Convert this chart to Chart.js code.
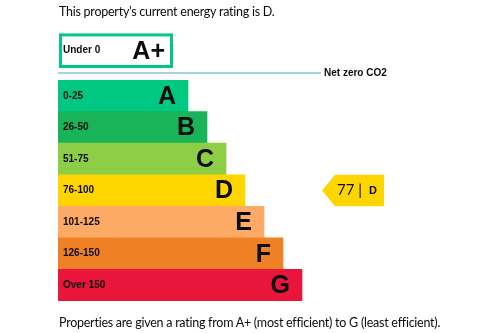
<!DOCTYPE html>
<html lang="en">
<head>
<meta charset="UTF-8">
<meta name="viewport" content="width=device-width, initial-scale=1.0">
<title>Energy rating</title>

<!-- chart.js -->
<script src="https://cdn.jsdelivr.net/npm/chart.js"></script>

<style>
    body { margin: 0; background: #fff; }
    #wrap { position: relative; width: 500px; height: 333px; overflow: hidden; }
    #chartBox { position: absolute; left: 0; top: 0; width: 500px; height: 333px; }
    .txt {
        position: absolute; left: 59px; margin: 0;
        font-family: Lato, sans-serif; font-size: 12.5px; line-height: 16px;
        letter-spacing: -0.25px; color: #0b0c0c; white-space: nowrap;
    }
</style>
</head>
<body>
<div id="wrap">
    <div id="chartBox"><canvas id="epcChart"></canvas></div>
    <p class="txt" style="top:4px">This property’s current energy rating is D.</p>
    <p class="txt" style="top:315px">Properties are given a rating from A+ (most efficient) to G (least efficient).</p>
</div>

<script>
    // rating bands, score ranges and bar lengths
    const bands = ['A', 'B', 'C', 'D', 'E', 'F', 'G'];
    const ranges = ['0-25', '26-50', '51-75', '76-100', '101-125', '126-150', 'Over 150'];
    const barLengths = [130, 149, 168, 187, 206, 225, 244];
    const bandColours = ['#00c781', '#19b459', '#8dce46', '#ffd500', '#fcaa65', '#ef8023', '#e9153b'];

    // the net zero band above the line
    const topBand = 'A+';
    const topRange = 'Under 0';
    const topLength = 115;
    const netZeroLabel = 'Net zero CO2';

    // current rating of the property
    const currentScore = 77;
    const currentBand = 'D';

    const ink = '#0b0c0c';
    const labelFont = 'bold 10px "Liberation Sans", Arial, sans-serif';
    const letterFont = 'bold 25px "Liberation Sans", Arial, sans-serif';

    // draws range labels, band letters, the A+ box, net zero line and the rating arrow
    const epcLabels = {
        id: 'epcLabels',
        afterDatasetsDraw(chart) {
            const ctx = chart.ctx;
            const area = chart.chartArea;
            const xs = chart.scales.x;
            const bars = chart.getDatasetMeta(0).data;

            ctx.save();
            ctx.textBaseline = 'middle';

            bars.forEach((bar, i) => {
                ctx.fillStyle = ink;
                ctx.font = labelFont;
                ctx.textAlign = 'left';
                ctx.fillText(ranges[i], area.left + 5, bar.y);
                ctx.font = letterFont;
                ctx.textAlign = 'right';
                ctx.fillText(bands[i], bar.x - 12, bar.y + 1);
            });

            // A+ box, outlined in the A colour
            const rowH = bars[0].height;
            const boxBottom = area.top - 12;
            const boxTop = boxBottom - rowH - 3;
            const boxRight = xs.getPixelForValue(topLength);
            ctx.strokeStyle = bandColours[0];
            ctx.lineWidth = 3;
            ctx.strokeRect(area.left + 2.5, boxTop + 1.5, boxRight - area.left - 4, boxBottom - boxTop - 3);
            const boxMid = (boxTop + boxBottom) / 2;
            ctx.fillStyle = ink;
            ctx.font = labelFont;
            ctx.textAlign = 'left';
            ctx.fillText(topRange, area.left + 5, boxMid);
            ctx.font = letterFont;
            ctx.textAlign = 'right';
            ctx.fillText(topBand, boxRight - 8, boxMid + 1);

            // net zero line
            const lineY = area.top - 7;
            ctx.strokeStyle = '#a8d4e0';
            ctx.lineWidth = 2;
            ctx.beginPath();
            ctx.moveTo(area.left, lineY);
            ctx.lineTo(321, lineY);
            ctx.stroke();
            ctx.fillStyle = ink;
            ctx.font = labelFont;
            ctx.textAlign = 'left';
            ctx.fillText(netZeroLabel, 324, lineY);

            // arrow for the current rating
            const cur = bars[bands.indexOf(currentBand)];
            const top = cur.y - cur.height / 2;
            const bottom = cur.y + cur.height / 2;
            ctx.fillStyle = bandColours[bands.indexOf(currentBand)];
            ctx.beginPath();
            ctx.moveTo(322, cur.y);
            ctx.lineTo(335, top);
            ctx.lineTo(384, top);
            ctx.lineTo(384, bottom);
            ctx.lineTo(335, bottom);
            ctx.closePath();
            ctx.fill();
            ctx.fillStyle = ink;
            ctx.font = '15px Lato, sans-serif';
            ctx.textAlign = 'left';
            ctx.fillText(currentScore + ' |', 337, cur.y);
            ctx.font = 'bold 11px "Liberation Sans", Arial, sans-serif';
            ctx.fillText(currentBand, 369, cur.y);

            ctx.restore();
        }
    };

    const ctx = document.querySelector('#epcChart').getContext('2d');
    const epcChart = new Chart(ctx, {
        type: 'bar',
        data: {
            labels: bands,
            datasets: [{
                data: barLengths,
                backgroundColor: bandColours,
                borderWidth: 0,
                barPercentage: 1,
                categoryPercentage: 1
            }]
        },
        options: {
            indexAxis: 'y',
            responsive: true,
            maintainAspectRatio: false,
            animation: false,
            layout: { padding: { left: 58, right: 0, top: 80, bottom: 32 } },
            scales: {
                x: { display: false, min: 0, max: 442 },
                y: { display: false }
            },
            plugins: {
                legend: { display: false },
                tooltip: { enabled: false }
            }
        },
        plugins: [epcLabels]
    });
</script>
</body>
</html>
